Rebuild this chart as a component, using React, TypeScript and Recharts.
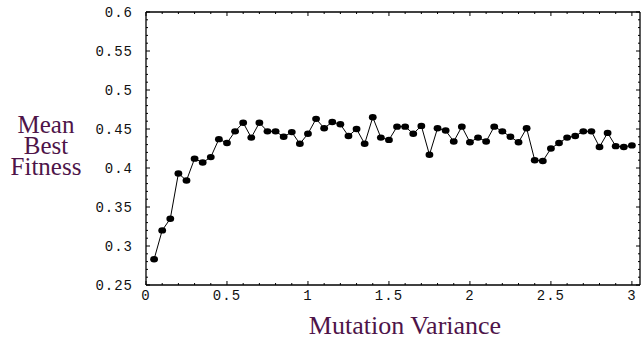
import React from 'react';
import { LineChart, Line, XAxis, YAxis, ReferenceLine } from 'recharts';

// mutation variance (x) and mean best fitness (y)
const variance = [
  0.05, 0.1, 0.15, 0.2, 0.25, 0.3, 0.35, 0.4, 0.45, 0.5,
  0.55, 0.6, 0.65, 0.7, 0.75, 0.8, 0.85, 0.9, 0.95, 1.0,
  1.05, 1.1, 1.15, 1.2, 1.25, 1.3, 1.35, 1.4, 1.45, 1.5,
  1.55, 1.6, 1.65, 1.7, 1.75, 1.8, 1.85, 1.9, 1.95, 2.0,
  2.05, 2.1, 2.15, 2.2, 2.25, 2.3, 2.35, 2.4, 2.45, 2.5,
  2.55, 2.6, 2.65, 2.7, 2.75, 2.8, 2.85, 2.9, 2.95, 3.0,
];

const fitness = [
  0.283, 0.32, 0.335, 0.393, 0.384, 0.412, 0.407, 0.414, 0.437, 0.432,
  0.447, 0.458, 0.439, 0.458, 0.447, 0.447, 0.44, 0.446, 0.431, 0.444,
  0.463, 0.451, 0.459, 0.456, 0.441, 0.45, 0.431, 0.465, 0.439, 0.436,
  0.453, 0.453, 0.444, 0.454, 0.417, 0.451, 0.448, 0.434, 0.453, 0.433,
  0.439, 0.434, 0.453, 0.447, 0.44, 0.433, 0.451, 0.41, 0.409, 0.425,
  0.432, 0.439, 0.441, 0.447, 0.447, 0.427, 0.445, 0.428, 0.427, 0.429,
];

const xMajor = [0, 0.5, 1, 1.5, 2, 2.5, 3];
const xMinor = [
  0, 0.1, 0.2, 0.3, 0.4, 0.5, 0.6, 0.7, 0.8, 0.9, 1, 1.1, 1.2, 1.3, 1.4, 1.5,
  1.6, 1.7, 1.8, 1.9, 2, 2.1, 2.2, 2.3, 2.4, 2.5, 2.6, 2.7, 2.8, 2.9, 3,
];
const yMajor = [0.25, 0.3, 0.35, 0.4, 0.45, 0.5, 0.55, 0.6];
const yMinor = [
  0.25, 0.26, 0.27, 0.28, 0.29, 0.3, 0.31, 0.32, 0.33, 0.34, 0.35, 0.36,
  0.37, 0.38, 0.39, 0.4, 0.41, 0.42, 0.43, 0.44, 0.45, 0.46, 0.47, 0.48,
  0.49, 0.5, 0.51, 0.52, 0.53, 0.54, 0.55, 0.56, 0.57, 0.58, 0.59, 0.6,
];

const data = variance.map((v, i) => ({ v, f: fitness[i] }));

const W = 644;
const H = 342;
const TOP = 12;
const LEFT = 146;
const RIGHT = 640;
const BOTTOM = 285;
const TITLE = '#4e1449';
const tickFont = { fontFamily: '"Liberation Mono", "Courier New", monospace', fontSize: 14, letterSpacing: 1 };
const titleFont = { fontFamily: '"Liberation Serif", "Times New Roman", serif', fontSize: 25 };

const isMajor = (v: number, list: number[]) => list.some((m) => Math.abs(m - v) < 1e-6);

const XTick = (props: any) => {
  const { x, y, payload } = props;
  const major = isMajor(payload.value, xMajor);
  const len = major ? 4 : 2;
  return (
    <g>
      <line x1={x} x2={x} y1={y} y2={y - len} stroke="#000" />
      <line x1={x} x2={x} y1={TOP} y2={TOP + len} stroke="#000" />
      {major && (
        <text x={x} y={y + 15} textAnchor="middle" fill="#111" style={tickFont}>
          {String(payload.value)}
        </text>
      )}
    </g>
  );
};

const YTick = (props: any) => {
  const { x, y, payload } = props;
  const major = isMajor(payload.value, yMajor);
  const len = major ? 4 : 2;
  return (
    <g>
      <line x1={x} x2={x + len} y1={y} y2={y} stroke="#000" />
      <line x1={RIGHT} x2={RIGHT - len} y1={y} y2={y} stroke="#000" />
      {major && (
        <text x={x - 13} y={y + 5} textAnchor="end" fill="#111" style={tickFont}>
          {String(payload.value)}
        </text>
      )}
    </g>
  );
};

const YTitle = () => (
  <g fill={TITLE} style={titleFont}>
    <text x={46} y={133} textAnchor="middle">Mean</text>
    <text x={46} y={154} textAnchor="middle">Best</text>
    <text x={46} y={175} textAnchor="middle">Fitness</text>
  </g>
);

const XTitle = () => (
  <text x={405} y={334} textAnchor="middle" fill={TITLE} style={{ ...titleFont, fontSize: 26 }}>
    Mutation Variance
  </text>
);

const Dot = (props: any) => {
  const { cx, cy, index } = props;
  return <ellipse key={index} cx={cx} cy={cy} rx={3.9} ry={3.2} fill="#000" />;
};

const App: React.FC = () => {
  return (
    <div style={{ position: 'absolute', left: 0, top: 0, width: W, height: H, background: '#fff' }}>
      <LineChart
        width={W}
        height={H}
        data={data}
        margin={{ top: TOP, right: W - RIGHT, bottom: 0, left: 0 }}
      >
        <XAxis
          dataKey="v"
          type="number"
          domain={[0, 3.05]}
          ticks={xMinor}
          interval={0}
          height={H - BOTTOM}
          tickSize={0}
          tickMargin={0}
          tickLine={false}
          axisLine={{ stroke: '#000', strokeWidth: 1.3 }}
          tick={<XTick />}
          label={<XTitle />}
        />
        <YAxis
          type="number"
          domain={[0.25, 0.6]}
          ticks={yMinor}
          interval={0}
          width={LEFT}
          tickSize={0}
          tickMargin={0}
          tickLine={false}
          axisLine={{ stroke: '#000', strokeWidth: 1.3 }}
          tick={<YTick />}
          label={<YTitle />}
        />
        <ReferenceLine y={0.6} stroke="#000" strokeWidth={1.3} />
        <ReferenceLine x={3.05} stroke="#000" strokeWidth={1.3} />
        <Line
          dataKey="f"
          stroke="#000"
          strokeWidth={1}
          dot={Dot}
          activeDot={false}
          isAnimationActive={false}
        />
      </LineChart>
    </div>
  );
};

export default App;
